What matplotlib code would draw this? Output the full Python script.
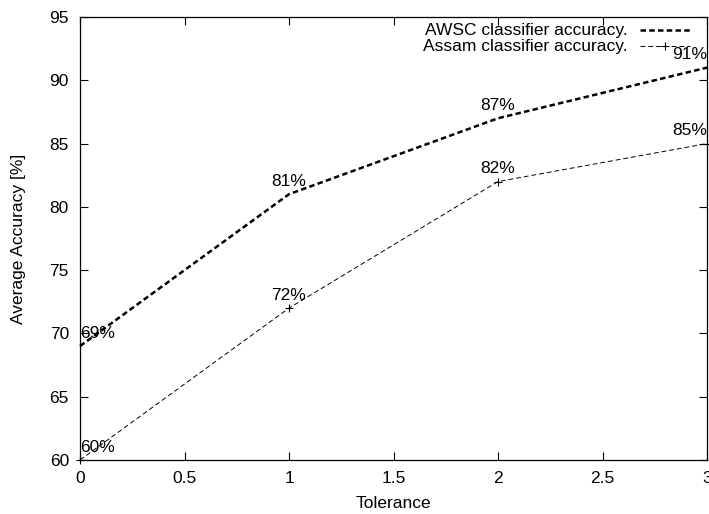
import matplotlib
matplotlib.use("Agg")
import matplotlib.pyplot as plt

plt.rcParams['font.family'] = ['Liberation Sans', 'DejaVu Sans']

tolerance = [0, 1, 2, 3]
awsc = [69, 81, 87, 91]
assam = [60, 72, 82, 85]
awsc_name = "AWSC classifier accuracy."
assam_name = "Assam classifier accuracy."
xticks = [0, 0.5, 1, 1.5, 2, 2.5, 3]
yticks = [60, 65, 70, 75, 80, 85, 90, 95]

fig = plt.figure(figsize=(7.09, 5.14), dpi=100)
ax = fig.add_axes([80/709, 1-460/514, 627/709, 443/514])

fs = 12.5
ax.plot(tolerance, awsc, color='black', lw=1.8, linestyle=(0, (2.2, 1.3)), clip_on=False)
ax.plot(tolerance, assam, color='black', lw=0.7, linestyle=(0, (5, 3)), marker='+',
        markersize=6, markeredgewidth=0.8, clip_on=False)

for series in (awsc, assam):
    for x, y in zip(tolerance, series):
        ha = 'left' if x == tolerance[0] else ('right' if x == tolerance[-1] else 'center')
        ax.text(x, y + 1, f"{y}%", ha=ha, va='center', fontsize=fs)

ax.set_xlim(0, 3)
ax.set_ylim(60, 95)
ax.set_xticks(xticks)
ax.set_xticklabels([f"{t:g}" for t in xticks])
ax.set_yticks(yticks)
ax.tick_params(direction='in', length=6, width=0.8, top=True, right=True,
               labelsize=fs, pad=8)
for s in ax.spines.values():
    s.set_linewidth(0.9)
ax.set_xlabel("Tolerance", fontsize=fs, labelpad=7)
ax.set_ylabel("Average Accuracy [%]", fontsize=fs, labelpad=17)

# legend (gnuplot style: text right-aligned, sample to the right)
tx = (628-80)/627
x0, x1 = (640-80)/627, (690-80)/627
for yy, name, lw, ls, mk in [((460-30)/443, awsc_name, 1.8, (0, (2.2, 1.3)), None),
                              ((460-46)/443, assam_name, 0.7, (0, (5, 3)), '+')]:
    ax.text(tx, yy, name, ha='right', va='center', fontsize=fs, transform=ax.transAxes)
    ax.plot([x0, x1], [yy, yy], color='black', lw=lw, linestyle=ls, transform=ax.transAxes,
            clip_on=False)
    if mk:
        ax.plot([(x0+x1)/2], [yy], color='black', marker=mk, markersize=6,
                markeredgewidth=0.8, transform=ax.transAxes, clip_on=False)

fig.savefig("out.png", dpi=100)
